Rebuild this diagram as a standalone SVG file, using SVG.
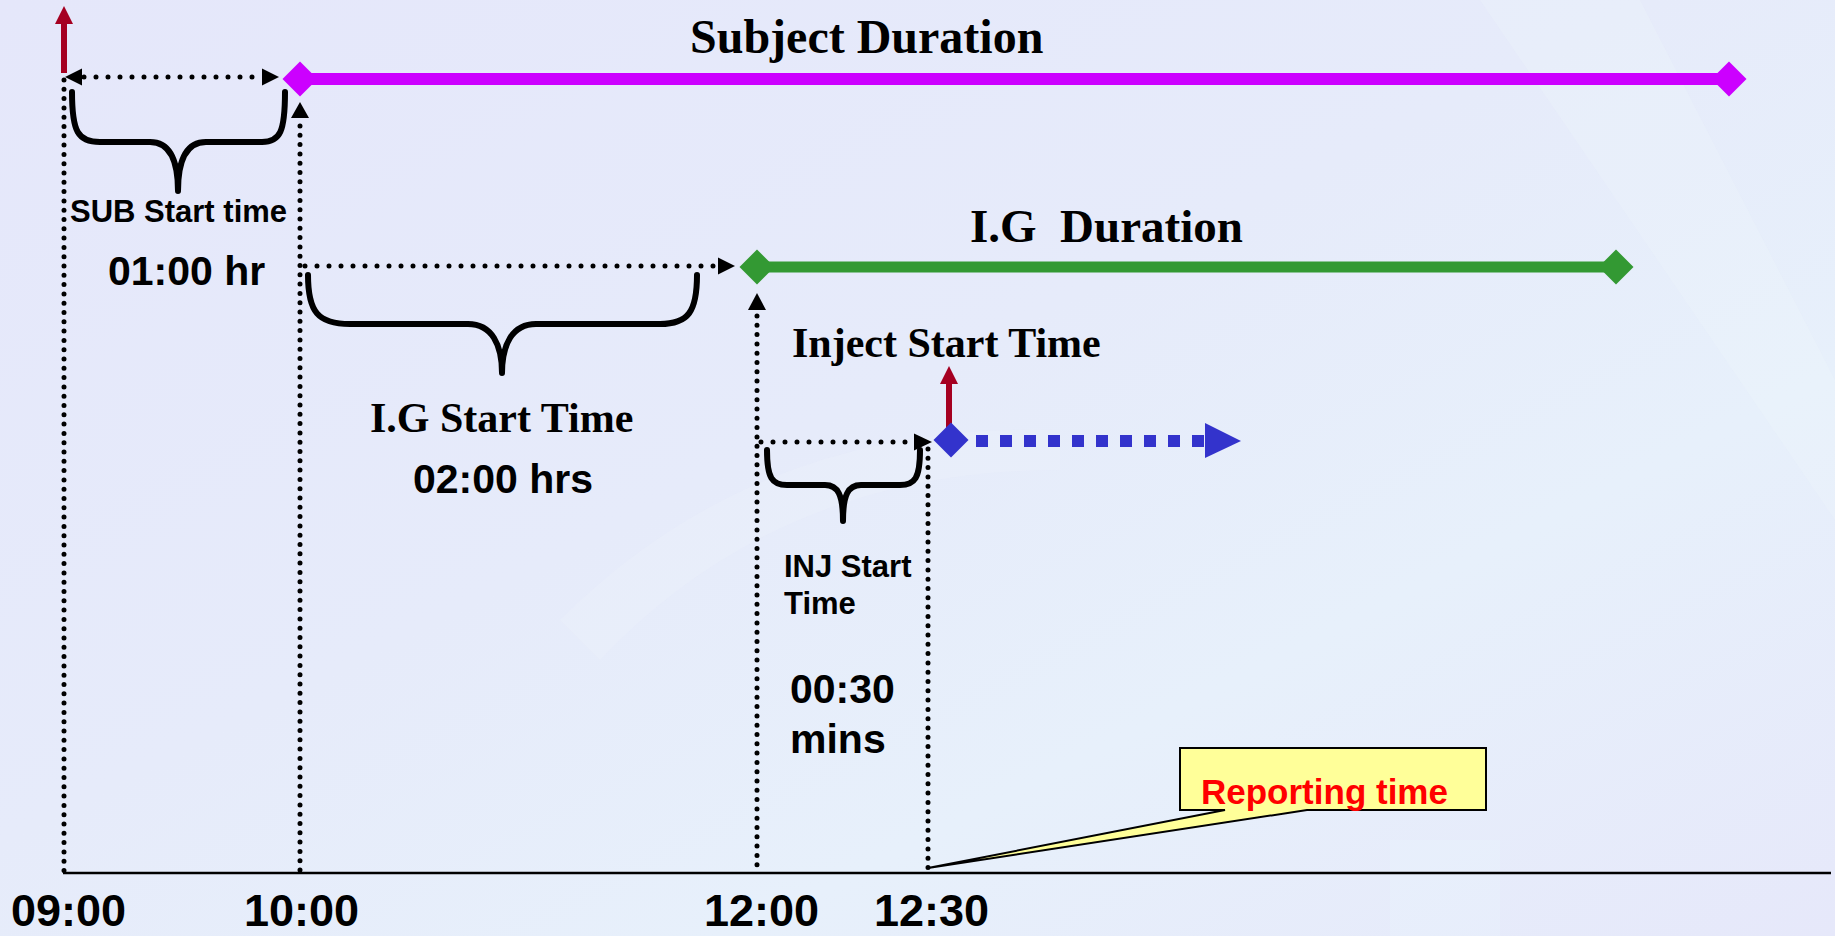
<svg xmlns="http://www.w3.org/2000/svg" width="1835" height="936" viewBox="0 0 1835 936">
<style>
.bg{fill:url(#bgGrad)}
.dotH{fill:none;stroke:#000;stroke-width:5;stroke-linecap:round;stroke-dasharray:0 12}
.dotV{fill:none;stroke:#000;stroke-width:5;stroke-linecap:round;stroke-dasharray:0 9.3}
.brace{fill:none;stroke:#000;stroke-width:6;stroke-linecap:round;stroke-linejoin:round}
.serif{font-family:"Liberation Serif","Times New Roman",serif;font-weight:bold;fill:#000}
.sans{font-family:"Liberation Sans",Arial,sans-serif;font-weight:bold;fill:#000}
.redArrow{stroke:#A50021;stroke-width:6;fill:none}
.redHead{fill:#A50021}
.head{fill:#000}
</style>
<defs>
<linearGradient id="bgGrad" x1="0" y1="0" x2="1" y2="1">
<stop offset="0" stop-color="#E5E7FA"/>
<stop offset="0.45" stop-color="#E6EBFA"/>
<stop offset="0.7" stop-color="#E7F0FB"/>
<stop offset="1" stop-color="#E6E8FA"/>
</linearGradient>
</defs>
<rect class="bg" x="0" y="0" width="1835" height="936"/>
<g id="background-shapes" opacity="0.25">
<path d="M1480,0 L1640,0 L1835,380 L1835,520 Z" fill="#F0F6FD"/>
<path d="M560,620 Q760,420 1060,430 L1060,470 Q780,470 600,660 Z" fill="#EEF5FD"/>
<rect x="1390" y="840" width="110" height="96" fill="#EAF6FE"/>
</g>

<g id="connectors">
<line x1="63" y1="873" x2="1831" y2="873" stroke="#000" stroke-width="2.5"/>
<line class="dotV" x1="64" y1="80" x2="64" y2="872"/>
<line class="dotV" x1="300" y1="126" x2="300" y2="872"/>
<line class="dotV" x1="757" y1="316" x2="757" y2="872"/>
<line class="dotV" x1="928" y1="449" x2="928" y2="872"/>
<polygon class="head" points="300,102 291,118 309,118"/>
<polygon class="head" points="757,293 748,310 766,310"/>
<line class="dotH" x1="84" y1="77" x2="260" y2="77"/>
<polygon class="head" points="65,77 82,68.5 82,85.5"/>
<polygon class="head" points="279,77 262,68.5 262,85.5"/>
<line class="dotH" x1="305" y1="266" x2="716" y2="266"/>
<polygon class="head" points="735,266 718,257.5 718,274.5"/>
<line class="dotH" x1="761" y1="442" x2="912" y2="442"/>
<polygon class="head" points="932,442 914,433.5 914,450.5"/>
<line class="redArrow" x1="64" y1="73" x2="64" y2="22"/>
<polygon class="redHead" points="64,6 55,24 73,24"/>
<line class="redArrow" x1="949" y1="432" x2="949" y2="381"/>
<polygon class="redHead" points="949,366 940,384 958,384"/>
<line x1="976" y1="441" x2="1205" y2="441" stroke="#3333CC" stroke-width="12" stroke-dasharray="12 12"/>
<polygon points="1205,423 1241,441 1205,458" fill="#3333CC"/>
</g>

<g id="subject-duration">
<line x1="300" y1="79" x2="1729" y2="79" stroke="#CC00FF" stroke-width="12"/>
<polygon points="300,61.5 317.5,79 300,96.5 282.5,79" fill="#CC00FF"/>
<polygon points="1729,61.5 1746.5,79 1729,96.5 1711.5,79" fill="#CC00FF"/>
<text class="serif" x="690" y="53" font-size="48">Subject Duration</text>
</g>

<g id="ig-duration">
<line x1="757" y1="267" x2="1616" y2="267" stroke="#339933" stroke-width="11"/>
<polygon points="757,249.5 774.5,267 757,284.5 739.5,267" fill="#339933"/>
<polygon points="1616,249.5 1633.5,267 1616,284.5 1598.5,267" fill="#339933"/>
<text class="serif" x="970" y="242" font-size="47" xml:space="preserve">I.G  Duration</text>
</g>

<g id="inject-start">
<polygon points="951,422.5 968.5,440 951,457.5 933.5,440" fill="#3333CC"/>
<text class="serif" x="792" y="357" font-size="42">Inject Start Time</text>
</g>

<g id="sub-start-time">
<path class="brace" d="M72,92 C72,132 78,142 100,142 L150,142 C170,142 178,160 178,191 C178,160 186,142 206,142 L262,142 C280,142 285,132 285,92"/>
<text class="sans" x="70" y="222" font-size="31">SUB Start time</text>
<text class="sans" x="108" y="285" font-size="41">01:00 hr</text>
</g>

<g id="ig-start-time">
<path class="brace" d="M308,275 C308,312 318,324 350,324 L468,324 C492,324 502,345 502,373 C502,345 512,324 536,324 L660,324 C688,324 697,312 697,275"/>
<text class="serif" x="370" y="432" font-size="42">I.G Start Time</text>
<text class="sans" x="413" y="493" font-size="41">02:00 hrs</text>
</g>

<g id="inj-start-time">
<path class="brace" d="M767,450 C767,478 772,485 787,485 L825,485 C838,485 843,495 843,521 C843,495 848,485 861,485 L900,485 C915,485 920,478 920,450"/>
<text class="sans" x="784" y="577" font-size="31">INJ Start</text>
<text class="sans" x="784" y="614" font-size="31">Time</text>
<text class="sans" x="790" y="703" font-size="41">00:30</text>
<text class="sans" x="790" y="753" font-size="41">mins</text>
</g>

<g id="reporting-time">
<path d="M1180,748 H1486 V810 H1307 L928,868 L1225,810 H1180 Z" fill="#FFFF99" stroke="#000" stroke-width="2"/>
<text class="sans" x="1201" y="804" font-size="35" style="fill:#FF0000">Reporting time</text>
</g>

<g id="time-labels">
<text class="sans" x="11" y="926" font-size="45">09:00</text>
<text class="sans" x="244" y="926" font-size="45">10:00</text>
<text class="sans" x="704" y="926" font-size="45">12:00</text>
<text class="sans" x="874" y="926" font-size="45">12:30</text>
</g>
</svg>
